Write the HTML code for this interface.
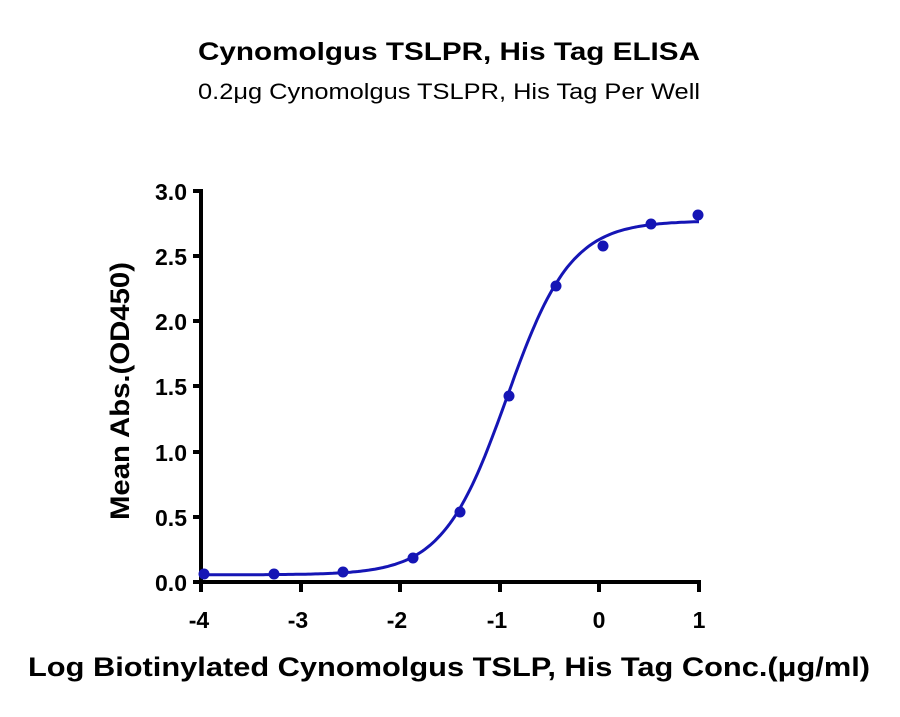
<!DOCTYPE html>
<html><head><style>
body{margin:0;background:#fff;}
svg text{font-family:"Liberation Sans",sans-serif;}
</style></head><body>
<svg id="s" width="900" height="712" xmlns="http://www.w3.org/2000/svg">
<text x="198" y="60" font-size="25" font-weight="bold" textLength="502" lengthAdjust="spacingAndGlyphs">Cynomolgus TSLPR, His Tag ELISA</text>
<text x="198" y="99" font-size="22" textLength="502" lengthAdjust="spacingAndGlyphs">0.2μg Cynomolgus TSLPR, His Tag Per Well</text>
<g stroke="#000" stroke-width="4" fill="none">
<path d="M201,189 V584 M199,582 H699 V592"/>
<path d="M193,191 H201 M193,256 H201 M193,321 H201 M193,386 H201 M193,452 H201 M193,517 H201 M193,582 H201"/>
<path d="M201,582 V592 M301,582 V592 M400,582 V592 M500,582 V592 M599,582 V592"/>
</g>
<g font-size="23" font-weight="bold" text-anchor="end">
<text x="187" y="200">3.0</text><text x="187" y="265">2.5</text><text x="187" y="330">2.0</text>
<text x="187" y="395">1.5</text><text x="187" y="461">1.0</text><text x="187" y="526">0.5</text><text x="187" y="591">0.0</text>
</g>
<g font-size="23" font-weight="bold" text-anchor="middle">
<text x="199" y="628">-4</text><text x="298" y="628">-3</text><text x="397" y="628">-2</text>
<text x="497" y="628">-1</text><text x="599" y="628">0</text><text x="699" y="628">1</text>
</g>
<text x="28" y="676" font-size="27" font-weight="bold" textLength="842" lengthAdjust="spacingAndGlyphs">Log Biotinylated Cynomolgus TSLP, His Tag Conc.(μg/ml)</text>
<text transform="translate(129,391) rotate(-90)" text-anchor="middle" font-size="27" font-weight="bold" textLength="258" lengthAdjust="spacingAndGlyphs">Mean Abs.(OD450)</text>
<path id="c" fill="none" stroke="#1515b5" stroke-width="3"/>
<g fill="#1515b5">
<circle cx="204" cy="574" r="5.5"/><circle cx="274" cy="574" r="5.5"/><circle cx="343" cy="572" r="5.5"/>
<circle cx="413" cy="558" r="5.5"/><circle cx="460" cy="512" r="5.5"/><circle cx="509" cy="396" r="5.5"/>
<circle cx="556" cy="286" r="5.5"/><circle cx="603" cy="246" r="5.5"/><circle cx="651" cy="224" r="5.5"/><circle cx="698" cy="215" r="5.5"/>
</g>
<script>
var d="";for(var i=0;i<=200;i++){var lx=-4+5*i/200;var y=0.055+2.715/(1+Math.pow(10,(-0.93-lx)*1.35));
var px=201+(lx+4)*99.6,py=582-y*130.4;d+=(i?"L":"M")+px.toFixed(1)+","+py.toFixed(1);}
document.getElementById("c").setAttribute("d",d);
</script>
</svg>
</body></html>
